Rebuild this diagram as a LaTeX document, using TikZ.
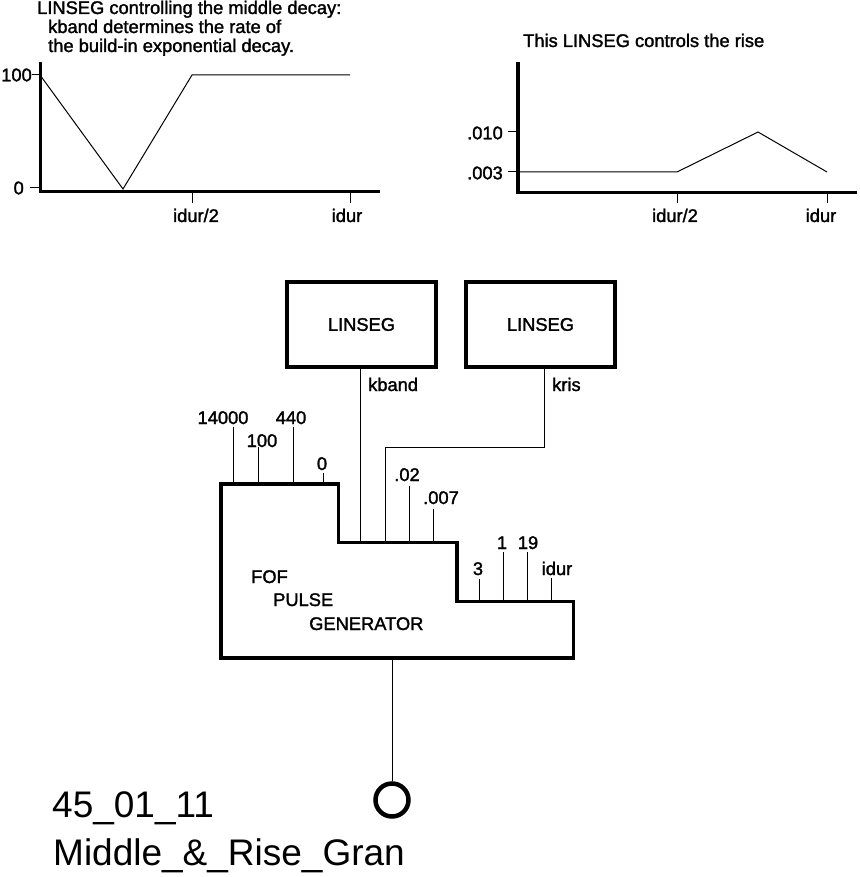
\documentclass[tikz,border=0pt]{standalone}
\usepackage{fontspec}
\setmainfont{Liberation Sans}
\newfontfamily\lblfont[FakeBold=1.6]{Liberation Sans}
\begin{document}
\begin{tikzpicture}[x=1pt,y=-1pt,
  thickline/.style={line width=3.5pt},
  thinline/.style={line width=1pt},
  lbl/.style={inner sep=0pt,font=\lblfont\fontsize{18.3}{22}\selectfont},
  biglbl/.style={inner sep=0pt,font=\fontsize{37}{44}\selectfont},
  boxstyle/.style={draw,line width=3.5pt,minimum width=149pt,minimum height=85pt,inner sep=0pt,font=\lblfont\fontsize{18.3}{22}\selectfont}]
\useasboundingbox (0,0) rectangle (859,877);

% ---------- top-left graph ----------
\node[lbl,anchor=base west] (t1) at (37,14) {LINSEG controlling the middle decay:};
\node[lbl,anchor=base west] (t2) at (48,33) {kband determines the rate of};
\node[lbl,anchor=base west] (t3) at (48,52) {the build-in exponential decay.};
\coordinate (lA) at (40.5,62);
\coordinate (lO) at (40.5,191.5);
\coordinate (lX) at (380,191.5);
\draw[thickline] (lA) -- (lO) -- (lX);
\draw[thinline] (32,75) -- (40,75);
\draw[thinline] (30,188) -- (40,188);
\node[lbl,anchor=east] (l100) at (32,75) {100};
\node[lbl,anchor=east] (l0) at (24,188) {0};
\draw[thinline] (192,193) -- (192,203);
\draw[thinline] (350,193) -- (350,203);
\node[lbl,anchor=base] (lh) at (196,222) {idur/2};
\node[lbl,anchor=base] (li) at (347,222) {idur};
\draw[thinline] (40,75) -- (123,189) -- (192,75) -- (350,75);

% ---------- top-right graph ----------
\node[lbl,anchor=base west] (t4) at (523,47) {This LINSEG controls the rise};
\coordinate (rA) at (518,62);
\coordinate (rO) at (518,192.5);
\coordinate (rX) at (857,192.5);
\draw[thickline] (rA) -- (rO) -- (rX);
\draw[thinline] (508,132) -- (517,132);
\draw[thinline] (508,172) -- (517,172);
\node[lbl,anchor=east] (r010) at (503,133) {.010};
\node[lbl,anchor=east] (r003) at (503,173) {.003};
\draw[thinline] (677,194) -- (677,203);
\draw[thinline] (827,194) -- (827,203);
\node[lbl,anchor=base] (rh) at (675,222) {idur/2};
\node[lbl,anchor=base] (ri) at (821,222) {idur};
\draw[thinline] (518,172) -- (677,172) -- (758,132) -- (827,172);

% ---------- LINSEG boxes ----------
\node[boxstyle] (lin1) at (361.5,324.5) {LINSEG};
\node[boxstyle] (lin2) at (540.5,324.5) {LINSEG};

% ---------- FOF block ----------
\coordinate (f1) at (221,484);
\coordinate (f2) at (338.5,484);
\coordinate (f3) at (338.5,542.5);
\coordinate (f4) at (457,542.5);
\coordinate (f5) at (457,601.5);
\coordinate (f6) at (573.5,601.5);
\coordinate (f7) at (573.5,658);
\coordinate (f8) at (221,658);
\draw[thickline,line join=miter] (f1) -- (f2) -- (f3) -- (f4) -- (f5) -- (f6) -- (f7) -- (f8) -- cycle;
\node[lbl,anchor=base west] (fof1) at (251,583) {FOF};
\node[lbl,anchor=base west] (fof2) at (273,606) {PULSE};
\node[lbl,anchor=base west] (fof3) at (309,630) {GENERATOR};

% connections from LINSEG boxes
\coordinate (kb) at (360,542.5);
\draw[thinline] (lin1.south -| kb) -- (kb);
\node[lbl,anchor=base west] (kbl) at (368,391) {kband};
\coordinate (kr1) at (544,447);
\coordinate (kr2) at (385,447);
\coordinate (kr3) at (385,542.5);
\draw[thinline] (lin2.south -| kr1) -- (kr1) -- (kr2) -- (kr3);
\node[lbl,anchor=base west] (krl) at (552,391) {kris};

% parameter inputs
\coordinate (p1) at (233,427);   \coordinate (q1) at (233,484);
\coordinate (p2) at (258,447);   \coordinate (q2) at (258,484);
\coordinate (p3) at (293,427);   \coordinate (q3) at (293,484);
\coordinate (p4) at (323,473);   \coordinate (q4) at (323,484);
\draw[thinline] (p1) -- (q1) (p2) -- (q2) (p3) -- (q3) (p4) -- (q4);
\node[lbl,anchor=base] (v1) at (223,424) {14000};
\node[lbl,anchor=base] (v2) at (262,447) {100};
\node[lbl,anchor=base] (v3) at (291,424) {440};
\node[lbl,anchor=base] (v4) at (322,470) {0};

\coordinate (p5) at (409,486);   \coordinate (q5) at (409,542.5);
\coordinate (p6) at (433,509);   \coordinate (q6) at (433,542.5);
\draw[thinline] (p5) -- (q5) (p6) -- (q6);
\node[lbl,anchor=base] (v5) at (407,481) {.02};
\node[lbl,anchor=base] (v6) at (441,504) {.007};

\coordinate (p7) at (479,579);   \coordinate (q7) at (479,601.5);
\coordinate (p8) at (503,552);   \coordinate (q8) at (503,601.5);
\coordinate (p9) at (527,552);   \coordinate (q9) at (527,601.5);
\coordinate (p10) at (551,578);  \coordinate (q10) at (551,601.5);
\draw[thinline] (p7) -- (q7) (p8) -- (q8) (p9) -- (q9) (p10) -- (q10);
\node[lbl,anchor=base] (v7) at (478,575) {3};
\node[lbl,anchor=base] (v8) at (502,549) {1};
\node[lbl,anchor=base] (v9) at (528,549) {19};
\node[lbl,anchor=base] (v10) at (557,575) {idur};

% output
\node[draw,circle,line width=4.5pt,minimum size=33pt,inner sep=0pt] (out) at (392,800) {};
\coordinate (fo) at (392,658);
\draw[thinline] (fo) -- (out.north);

\node[biglbl,anchor=base west] (n1) at (52,817) {45\_01\_11};
\node[biglbl,anchor=base west] (n2) at (53,865) {Middle\_\&\_Rise\_Gran};
\end{tikzpicture}
\end{document}
